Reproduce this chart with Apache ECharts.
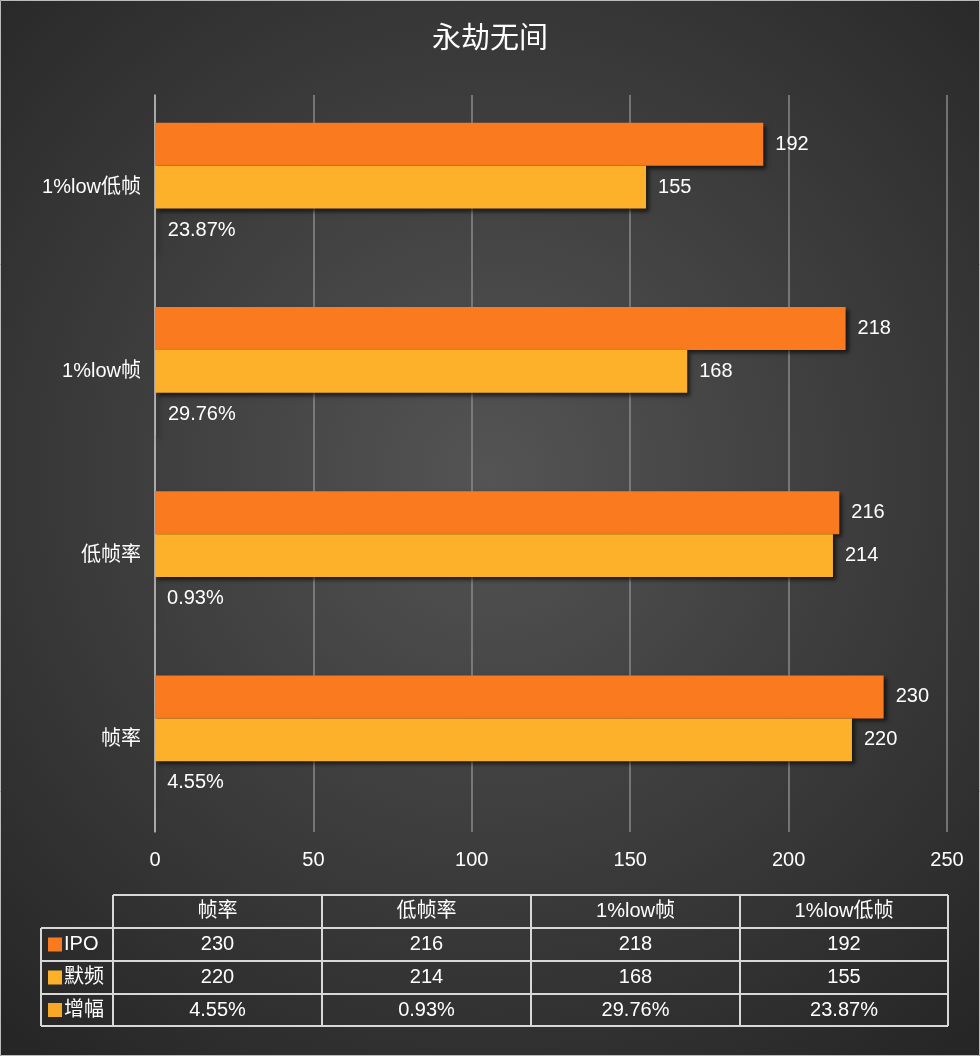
<!DOCTYPE html>
<html><head><meta charset="utf-8">
<script src="https://cdn.jsdelivr.net/npm/echarts@6/dist/echarts.min.js"></script>
<style>html,body{margin:0;padding:0;background:#333}#c{width:980px;height:1056px}</style>
</head><body><div id="c"></div>
<script>
const categories = ['帧率','低帧率','1%low帧','1%low低帧'];
const seriesNames = ['IPO','默频','增幅'];
const ipo = [230,216,218,192];
const mopin = [220,214,168,155];
const zengfu = [4.55,0.93,29.76,23.87];
const xTicks = [0,50,100,150,200,250];
const colors = ['#F97A1F','#FDB12A','#F9A826'];
const F = '"Liberation Sans","Noto Sans CJK SC",sans-serif';

const chart = echarts.init(document.getElementById('c'));
const shadow = {shadowColor:'rgba(0,0,0,0.6)',shadowBlur:4,shadowOffsetX:3,shadowOffsetY:3};
const lbl = (fmt)=>({show:true,position:'right',distance:12,color:'#fff',fontSize:20,fontFamily:F,formatter:fmt});

const g = [];
const cols=[113,322,531,740,948], rows=[895,928,961,994,1026], lx=41;
const line=(x1,y1,x2,y2)=>g.push({type:'line',shape:{x1,y1,x2,y2},style:{stroke:'#d8d8d8',lineWidth:2},silent:true});
line(113,895,948,895);
for(let r=1;r<rows.length;r++) line(lx,rows[r],948,rows[r]);
line(lx,rows[1],lx,rows[4]);
cols.forEach(x=>line(x,895,x,rows[4]));
const txt=(x,y,t,align)=>g.push({type:'text',x,y,style:{text:t,fill:'#fff',font:'20px '+F,align:align||'center',verticalAlign:'middle'},silent:true});
categories.forEach((c,i)=>txt((cols[i]+cols[i+1])/2,(rows[0]+rows[1])/2,c));
const rowData=[ipo.map(String),mopin.map(String),zengfu.map(v=>v.toFixed(2)+'%')];
seriesNames.forEach((n,r)=>{
  const cy=(rows[r+1]+rows[r+2])/2;
  g.push({type:'rect',shape:{x:48,y:cy-7,width:14,height:14},style:{fill:colors[r]},silent:true});
  txt(64,cy,n,'left');
  rowData[r].forEach((v,i)=>txt((cols[i]+cols[i+1])/2,cy,v));
});
g.push({type:'rect',shape:{x:0.5,y:0.5,width:979,height:1055},style:{fill:'none',stroke:'#bbb',lineWidth:1},silent:true});

chart.setOption({
  backgroundColor:{type:'radial',x:0.5,y:0.45,r:0.75,colorStops:[{offset:0,color:'#545454'},{offset:1,color:'#262626'}]},
  title:{text:'永劫无间',left:'center',top:20,textStyle:{color:'#fff',fontSize:29,fontWeight:'normal',fontFamily:F}},
  grid:{left:155,right:33,top:95,bottom:224},
  xAxis:{type:'value',min:0,max:250,interval:50,
    axisLabel:{color:'#fff',fontSize:20,fontFamily:F,margin:18,formatter:v=>xTicks.includes(v)?String(v):''},
    splitLine:{lineStyle:{color:'#8a8a8a',width:1.5}},axisLine:{show:false},axisTick:{show:false}},
  yAxis:{type:'category',data:categories,
    axisLabel:{color:'#fff',fontSize:20,fontFamily:F,margin:14},
    axisLine:{lineStyle:{color:'#bbb',width:1.5}},axisTick:{show:false}},
  series:[
    {name:'IPO',type:'bar',data:ipo,barGap:'0%',barCategoryGap:'30%',
      itemStyle:Object.assign({color:colors[0]},shadow),label:lbl('{c}')},
    {name:'默频',type:'bar',data:mopin,barGap:'0%',barCategoryGap:'30%',
      itemStyle:Object.assign({color:colors[1]},shadow),label:lbl('{c}')},
    {name:'增幅',type:'bar',data:zengfu.map(v=>v/100),barGap:'0%',barCategoryGap:'30%',
      itemStyle:Object.assign({color:colors[2]},shadow),label:lbl(p=>zengfu[p.dataIndex].toFixed(2)+'%')}
  ],
  graphic:g
});
</script></body></html>
